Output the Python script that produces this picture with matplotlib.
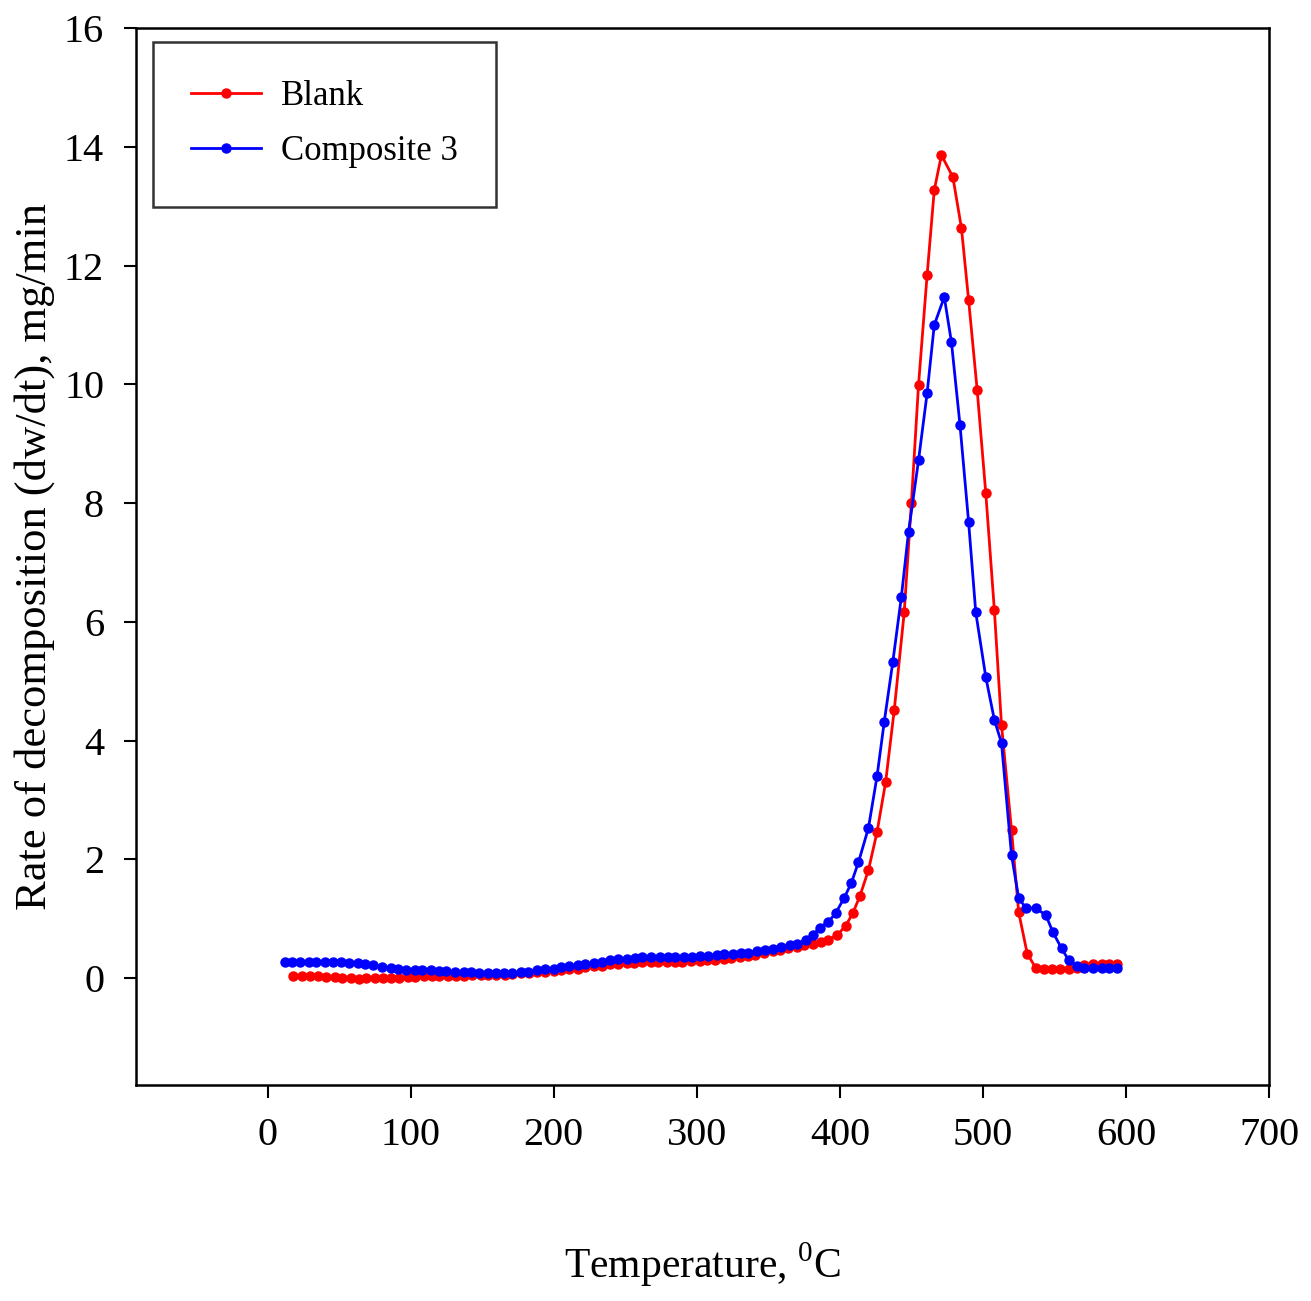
import matplotlib
matplotlib.use("Agg")
import matplotlib.pyplot as plt

plt.rcParams['font.family'] = ['Liberation Serif', 'DejaVu Serif']
plt.rcParams['mathtext.fontset'] = 'custom'
plt.rcParams['mathtext.rm'] = 'Liberation Serif'

# Blank
blank_T = [18, 24, 30, 35, 41, 47, 52, 58, 64, 69,
           75, 81, 86, 92, 98, 103, 109, 115, 120, 126,
           132, 137, 143, 149, 154, 160, 166, 171, 177, 183,
           188, 194, 200, 205, 211, 217, 222, 228, 234, 239,
           245, 251, 256, 262, 268, 273, 279, 285, 290, 296,
           302, 307, 313, 319, 324, 330, 336, 341, 347, 353,
           358, 364, 370, 375, 381, 387, 392, 398, 404, 409,
           414, 420, 426, 432, 438, 445, 450, 455, 461, 466,
           471, 479, 485, 490, 496, 502, 508, 513, 520, 525,
           531, 537, 543, 548, 554, 560, 566, 571, 577, 583,
           588, 594]
blank_rate = [0.03, 0.03, 0.03, 0.03, 0.02, 0.02, 0.01, 0.0, -0.01, 0.0,
              0.0, 0.0, 0.01, 0.01, 0.02, 0.02, 0.03, 0.03, 0.03, 0.04,
              0.04, 0.04, 0.05, 0.05, 0.05, 0.06, 0.06, 0.07, 0.08, 0.09,
              0.1, 0.11, 0.12, 0.14, 0.15, 0.16, 0.18, 0.2, 0.21, 0.23,
              0.24, 0.25, 0.26, 0.27, 0.28, 0.28, 0.28, 0.28, 0.28, 0.29,
              0.29, 0.3, 0.31, 0.32, 0.34, 0.35, 0.37, 0.39, 0.42, 0.45,
              0.48, 0.5, 0.52, 0.55, 0.58, 0.61, 0.65, 0.72, 0.88, 1.09,
              1.38, 1.82, 2.46, 3.3, 4.51, 6.16, 8.0, 9.99, 11.84, 13.27,
              13.86, 13.49, 12.63, 11.42, 9.9, 8.17, 6.2, 4.26, 2.49, 1.11,
              0.41, 0.17, 0.15, 0.15, 0.15, 0.15, 0.17, 0.22, 0.24, 0.24,
              0.24, 0.24]

# Composite 3
comp_T = [12, 17, 23, 29, 34, 40, 46, 51, 57, 63,
          68, 74, 80, 86, 91, 97, 103, 108, 114, 120,
          125, 131, 137, 142, 148, 154, 160, 165, 171, 177,
          182, 188, 194, 200, 205, 211, 217, 222, 228, 234,
          239, 245, 251, 257, 262, 268, 274, 280, 285, 291,
          297, 302, 308, 314, 319, 325, 331, 336, 342, 348,
          353, 359, 365, 370, 376, 381, 386, 392, 397, 403,
          408, 413, 420, 426, 431, 437, 443, 448, 455, 461,
          466, 473, 478, 484, 490, 495, 502, 508, 513, 520,
          525, 530, 537, 544, 549, 555, 560, 566, 571, 577,
          583, 588, 594]
comp_rate = [0.27, 0.27, 0.27, 0.27, 0.27, 0.27, 0.28, 0.27, 0.26, 0.26,
             0.24, 0.22, 0.19, 0.17, 0.15, 0.14, 0.14, 0.13, 0.13, 0.12,
             0.12, 0.11, 0.1, 0.1, 0.09, 0.08, 0.08, 0.09, 0.09, 0.1,
             0.11, 0.13, 0.15, 0.16, 0.18, 0.2, 0.22, 0.24, 0.26, 0.28,
             0.3, 0.32, 0.33, 0.34, 0.35, 0.35, 0.35, 0.35, 0.35, 0.36,
             0.36, 0.37, 0.38, 0.39, 0.4, 0.41, 0.42, 0.43, 0.45, 0.47,
             0.49, 0.52, 0.55, 0.58, 0.64, 0.72, 0.85, 0.95, 1.09, 1.35,
             1.6, 1.95, 2.53, 3.4, 4.31, 5.32, 6.42, 7.51, 8.72, 9.85,
             11.0, 11.47, 10.71, 9.31, 7.68, 6.16, 5.07, 4.35, 3.96, 2.07,
             1.35, 1.18, 1.18, 1.06, 0.77, 0.5, 0.3, 0.2, 0.17, 0.17,
             0.17, 0.17, 0.17]

x_ticks = [0, 100, 200, 300, 400, 500, 600, 700]
y_ticks = [0, 2, 4, 6, 8, 10, 12, 14, 16]

fig = plt.figure(figsize=(13.11, 13.01), dpi=100)
ax = fig.add_axes([0.1037, 0.166, 0.8643, 0.8125])

ax.plot(blank_T, blank_rate, color="red", lw=2, marker="o", ms=6.5, label="Blank")
ax.plot(comp_T, comp_rate, color="blue", lw=2, marker="o", ms=6.5, label="Composite 3")

ax.set_xlim(-92, 700)
ax.set_ylim(-1.8, 16)
ax.set_xticks(x_ticks)
ax.set_yticks(y_ticks)
ax.tick_params(direction="out", length=9, width=1.5, labelsize=29, pad=14)

for sp in ax.spines.values():
    sp.set_linewidth(1.8)

ax.set_xlabel("Temperature, $^{0}$C", fontsize=30, labelpad=62)
ax.set_ylabel("Rate of decomposition (dw/dt), mg/min", fontsize=32, labelpad=6)

leg = ax.legend(loc="upper left", bbox_to_anchor=(0.015, 0.987), borderaxespad=0,
                fontsize=25, frameon=True, fancybox=False, edgecolor="black",
                handlelength=2.0, handletextpad=0.6, borderpad=1.1, labelspacing=0.65)
leg.get_frame().set_linewidth(1.8)

plt.savefig("out.png", dpi=100)
